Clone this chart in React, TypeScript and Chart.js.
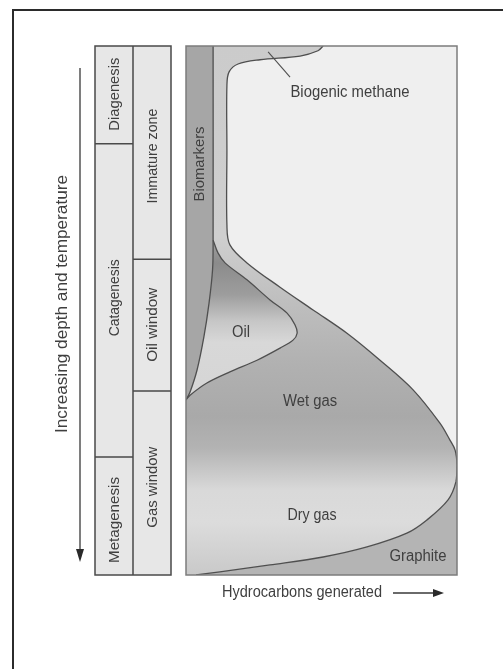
import React, { useEffect, useRef } from "react";
import { Chart, registerables } from "chart.js";

Chart.register(...registerables);

// ---- Data (x = hydrocarbons generated, 0..100 ; y = depth, 0 top .. 100 bottom) ----
const outerGenerated = [50.6, 48.7, 42.1, 27.3, 19.2, 15.9, 15.1, 15.1, 15.1, 16.2, 22.5, 34.7, 46.9, 59.4, 71.6, 83.8, 93.7, 97.4, 99.3, 100, 99.6, 96.7, 88.9, 81.5, 66.8, 50.6, 31.0, 12.5, 3.7];
const outerDepth = [0, 0.9, 1.9, 2.6, 3.4, 4.9, 7.4, 19.7, 33.8, 37.6, 41.0, 45.6, 49.9, 54.3, 59.4, 65.0, 71.3, 74.5, 76.4, 79.2, 82.4, 85.8, 89.6, 92.1, 94.7, 96.6, 98.1, 99.4, 100];
const graphiteFromIndex = 19;

const oilRightGenerated = [10, 11.8, 14.4, 22.5, 31.0, 37.3, 40.2, 41.0, 39.5, 34.7, 26.2, 16.2, 7.7, 1.5, 0];
const oilRightDepth = [36.7, 39.1, 41.0, 44.2, 48.0, 50.5, 52.7, 54.3, 55.6, 57.1, 59.4, 61.6, 63.7, 66.0, 66.9];

const oilLeftGenerated = [10, 9.8, 8.5, 6.6, 4.1, 1.5, 0];
const oilLeftDepth = [36.7, 42.3, 48.6, 55.0, 61.2, 65.4, 66.9];

const biomarkerGenerated = [10, 10];
const biomarkerDepth = [0, 36.7];

const leaderGenerated = [30.3, 38.4];
const leaderDepth = [1.1, 5.9];

const zoneLabels = ["Biogenic methane", "Oil", "Wet gas", "Dry gas", "Graphite"];
const zoneLabelGenerated = [60.5, 20.3, 45.8, 46.5, 85.6];
const zoneLabelDepth = [8.9, 54.1, 67.3, 88.7, 96.6];
const zoneLabelLength = [119, 18, 54, 49, 57];

const biomarkerLabel = "Biomarkers";
const biomarkerLabelGenerated = 5.2;
const biomarkerLabelDepth = 22.3;

const stageLabels = ["Diagenesis", "Catagenesis", "Metagenesis"];
const stageBounds = [0, 18.5, 77.7, 100];
const stageLabelDepth = [9.1, 47.6, 89.6];
const stageLabelLength = [73, 77, 86];

const windowLabels = ["Immature zone", "Oil window", "Gas window"];
const windowBounds = [0, 40.3, 65.2, 100];
const windowLabelDepth = [20.8, 52.7, 83.4];
const windowLabelLength = [95, 74, 81];

const axisLabelX = "Hydrocarbons generated";
const axisLabelY = "Increasing depth and temperature";

// ---- helpers ----
type P = { x: number; y: number };
const pts = (xs: number[], ys: number[]): P[] => xs.map((x, i) => ({ x, y: ys[i] }));
const chain = (p: P[]): P[] => [p[0], ...p, p[p.length - 1]];
const polygon = (...chains: P[][]): P[] => {
  const out = chains.flatMap(chain);
  out.push(out[0]);
  return out;
};

const outerPts = pts(outerGenerated, outerDepth);
const oilRightPts = pts(oilRightGenerated, oilRightDepth);
const oilLeftPts = pts(oilLeftGenerated, oilLeftDepth);
const bioPts = pts(biomarkerGenerated, biomarkerDepth);

const FONT = '"Liberation Sans", "DejaVu Sans", Arial, sans-serif';
const TEXT = "#3f3f3f";

function drawLabel(ctx: CanvasRenderingContext2D, text: string, x: number, y: number, len: number, size: number, vertical: boolean) {
  ctx.save();
  ctx.translate(x, y);
  if (vertical) ctx.rotate(-Math.PI / 2);
  ctx.font = `${size}px ${FONT}`;
  const w = ctx.measureText(text).width;
  ctx.scale(len / w, 1);
  ctx.textAlign = "center";
  ctx.textBaseline = "middle";
  ctx.fillStyle = TEXT;
  ctx.fillText(text, 0, 0);
  ctx.restore();
}

function gradient(chart: any, stops: [number, string][], fallback: string) {
  const area = chart.chartArea;
  if (!area) return fallback;
  const g = chart.ctx.createLinearGradient(0, area.top, 0, area.bottom);
  stops.forEach(([d, c]) => g.addColorStop(Math.min(1, Math.max(0, d / 100)), c));
  return g;
}

const envelopeStops: [number, string][] = [
  [0, "#cbcbcb"], [36, "#cfcfcf"], [48, "#bfbfbf"], [60, "#b1b1b1"], [70, "#a9a9a9"],
  [76, "#b3b3b3"], [84, "#d9d9d9"], [90, "#dcdcdc"], [100, "#c9c9c9"],
];
const oilStops: [number, string][] = [
  [36.7, "#a0a0a0"], [41, "#8b8b8b"], [47, "#9d9d9d"], [52, "#c6c6c6"], [56, "#d8d8d8"], [67, "#d5d5d5"],
];

const decor = {
  id: "decor",
  beforeDraw(chart: any) {
    const { ctx, chartArea: a } = chart;
    ctx.save();
    ctx.fillStyle = "#ffffff";
    ctx.fillRect(0, 0, chart.width, chart.height);
    ctx.fillStyle = "#efefef";
    ctx.fillRect(a.left, a.top, a.right - a.left, a.bottom - a.top);
    ctx.restore();
  },
  afterDraw(chart: any) {
    const { ctx, chartArea: a, scales } = chart;
    const sx = scales.x, sy = scales.y;
    ctx.save();
    // plot frame
    ctx.strokeStyle = "#7c7c7c";
    ctx.lineWidth = 1.5;
    ctx.strokeRect(a.left, a.top, a.right - a.left, a.bottom - a.top);

    // zone labels
    zoneLabels.forEach((t, i) =>
      drawLabel(ctx, t, sx.getPixelForValue(zoneLabelGenerated[i]), sy.getPixelForValue(zoneLabelDepth[i]), zoneLabelLength[i], 16, false)
    );
    drawLabel(ctx, biomarkerLabel, sx.getPixelForValue(biomarkerLabelGenerated), sy.getPixelForValue(biomarkerLabelDepth), 75, 15, true);

    // stage table
    const c0 = 95, c1 = 133, c2 = 171;
    const top = sy.getPixelForValue(0), bot = sy.getPixelForValue(100);
    ctx.fillStyle = "#e7e7e7";
    ctx.fillRect(c0, top, c2 - c0, bot - top);
    ctx.strokeStyle = "#4a4a4a";
    ctx.lineWidth = 1.5;
    ctx.strokeRect(c0, top, c2 - c0, bot - top);
    ctx.beginPath();
    ctx.moveTo(c1, top);
    ctx.lineTo(c1, bot);
    stageBounds.slice(1, -1).forEach((d) => {
      const y = sy.getPixelForValue(d);
      ctx.moveTo(c0, y);
      ctx.lineTo(c1, y);
    });
    windowBounds.slice(1, -1).forEach((d) => {
      const y = sy.getPixelForValue(d);
      ctx.moveTo(c1, y);
      ctx.lineTo(c2, y);
    });
    ctx.stroke();
    stageLabels.forEach((t, i) => drawLabel(ctx, t, (c0 + c1) / 2 + 0.5, sy.getPixelForValue(stageLabelDepth[i]), stageLabelLength[i], 15, true));
    windowLabels.forEach((t, i) => drawLabel(ctx, t, (c1 + c2) / 2 + 0.5, sy.getPixelForValue(windowLabelDepth[i]), windowLabelLength[i], 15, true));

    // axis labels and arrows
    drawLabel(ctx, axisLabelY, 63, 304, 258, 16, true);
    drawLabel(ctx, axisLabelX, 302, 593, 160, 16, false);
    ctx.strokeStyle = "#3a3a3a";
    ctx.fillStyle = "#2a2a2a";
    ctx.lineWidth = 1.3;
    ctx.beginPath();
    ctx.moveTo(80, 68);
    ctx.lineTo(80, 552);
    ctx.moveTo(393, 593);
    ctx.lineTo(436, 593);
    ctx.stroke();
    ctx.beginPath();
    ctx.moveTo(80, 562);
    ctx.lineTo(76, 549);
    ctx.lineTo(84, 549);
    ctx.closePath();
    ctx.fill();
    ctx.beginPath();
    ctx.moveTo(444, 593);
    ctx.lineTo(433, 589);
    ctx.lineTo(433, 597);
    ctx.closePath();
    ctx.fill();

    // page border
    ctx.strokeStyle = "#2b2b2b";
    ctx.lineWidth = 2;
    ctx.beginPath();
    ctx.moveTo(13, 669);
    ctx.lineTo(13, 10);
    ctx.lineTo(503, 10);
    ctx.stroke();
    ctx.restore();
  },
};

export default function App() {
  const ref = useRef<HTMLCanvasElement>(null);

  useEffect(() => {
    if (!ref.current) return;
    const common = { pointRadius: 0, pointHoverRadius: 0, tension: 0.35 };
    const outlineStyle = { ...common, fill: false, borderColor: "#4f4f4f", borderWidth: 1.3, backgroundColor: "transparent" };
    const chart = new Chart(ref.current, {
      type: "line",
      data: {
        datasets: [
          {
            ...common,
            data: polygon(outerPts, [{ x: 0, y: 100 }, { x: 0, y: 0 }]),
            fill: "shape",
            borderWidth: 0,
            borderColor: "transparent",
            backgroundColor: (c: any) => gradient(c.chart, envelopeStops, "#bbbbbb"),
            order: 10,
          },
          {
            ...common,
            data: polygon(outerPts.slice(graphiteFromIndex), [{ x: 100, y: 100 }]),
            fill: "shape",
            borderWidth: 0,
            borderColor: "transparent",
            backgroundColor: "#b4b4b4",
            order: 9,
          },
          {
            ...common,
            data: polygon(oilRightPts, [...oilLeftPts].reverse()),
            fill: "shape",
            borderWidth: 0,
            borderColor: "transparent",
            backgroundColor: (c: any) => gradient(c.chart, oilStops, "#aaaaaa"),
            order: 8,
          },
          {
            ...common,
            data: polygon([{ x: 0, y: 0 }], bioPts, oilLeftPts),
            fill: "shape",
            borderWidth: 0,
            borderColor: "transparent",
            backgroundColor: "#a6a6a6",
            order: 7,
          },
          { ...outlineStyle, data: outerPts, order: 3 },
          { ...outlineStyle, data: oilRightPts, order: 2 },
          { ...outlineStyle, data: [...bioPts, ...oilLeftPts.slice(1)], order: 1 },
          { ...outlineStyle, tension: 0, data: pts(leaderGenerated, leaderDepth), borderWidth: 1.1, order: 0 },
        ] as any,
      },
      options: {
        animation: false,
        responsive: false,
        events: [],
        layout: { padding: { left: 186, top: 46, right: 46, bottom: 95 } },
        scales: {
          x: { type: "linear", min: 0, max: 100, display: false },
          y: { type: "linear", min: 0, max: 100, reverse: true, display: false },
        },
        plugins: { legend: { display: false }, tooltip: { enabled: false }, title: { display: false } },
      },
      plugins: [decor],
    });
    return () => chart.destroy();
  }, []);

  return (
    <div style={{ position: "absolute", left: 0, top: 0, width: 503, height: 670 }}>
      <canvas ref={ref} width={503} height={670} style={{ display: "block" }} />
    </div>
  );
}
